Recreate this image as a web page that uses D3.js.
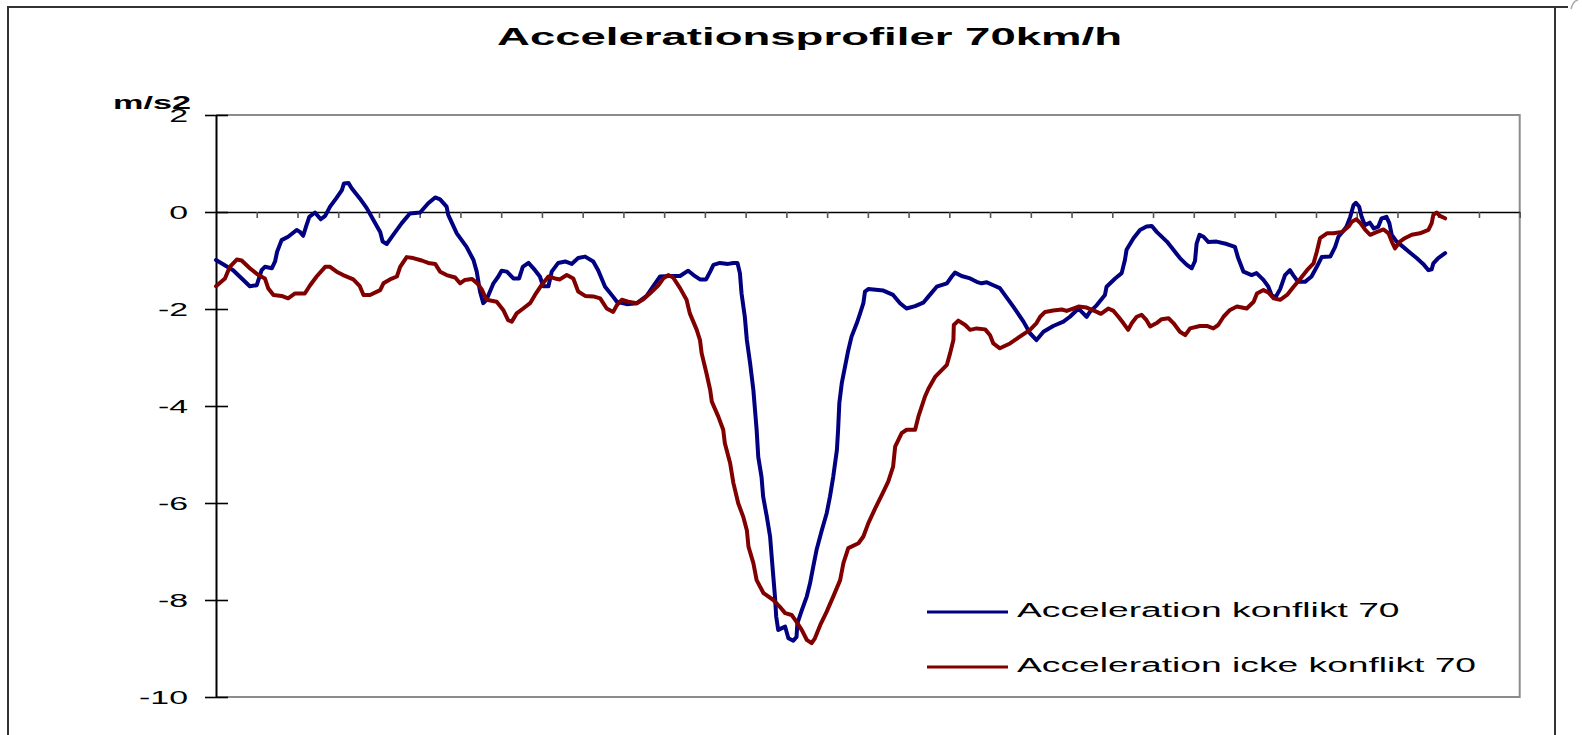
<!DOCTYPE html>
<meta charset="utf-8">
<style>
body { margin: 0; background: #fff; }
svg { display: block; font-family: "Liberation Sans", Arial, sans-serif; }
.series { fill: none; stroke-width: 4px; stroke-linejoin: round; stroke-linecap: round; }
</style>
<svg width="1582" height="735"></svg>
<script src="https://d3js.org/d3.v7.min.js"></script>
<script>

var title = "Accelerationsprofiler 70km/h";
var unitLabel = "m/s2";
var yTicks = [2, 0, -2, -4, -6, -8, -10];
var seriesNames = ["Acceleration konflikt 70", "Acceleration icke konflikt 70"];

// x in category-axis intervals (32 intervals on the axis), y in m/s2
var konfliktX = [0, 0.42, 0.83, 1.00, 1.12, 1.20, 1.37, 1.45, 1.50, 1.61, 1.77, 1.98, 2.06, 2.14, 2.21, 2.29, 2.43, 2.57, 2.68, 2.80,
    2.95, 3.09, 3.14, 3.25, 3.33, 3.53, 3.70, 3.86, 4.03, 4.09, 4.19, 4.35, 4.56, 4.76, 5.01, 5.21, 5.38, 5.50, 5.66, 5.70,
    5.91, 6.15, 6.32, 6.40, 6.48, 6.56, 6.64, 6.81, 6.93, 7.01, 7.14, 7.30, 7.44, 7.53, 7.67, 7.83, 7.95, 8.03, 8.16, 8.24,
    8.40, 8.57, 8.73, 8.89, 9.06, 9.26, 9.38, 9.55, 9.75, 9.84, 10.08, 10.33, 10.57, 10.78, 10.90, 11.14, 11.39, 11.59, 11.72, 11.88,
    12.03, 12.13, 12.21, 12.37, 12.57, 12.70, 12.80, 12.86, 12.90, 12.98, 13.03, 13.11, 13.19, 13.23, 13.27, 13.31, 13.39, 13.43, 13.52, 13.60,
    13.64, 13.68, 13.72, 13.75, 13.80, 13.89, 13.97, 14.05, 14.17, 14.25, 14.27, 14.38, 14.50, 14.58, 14.66, 14.74, 14.87, 14.99, 15.07, 15.15,
    15.24, 15.27, 15.30, 15.36, 15.44, 15.52, 15.60, 15.73, 15.81, 15.89, 15.93, 16.01, 16.38, 16.62, 16.79, 16.95, 17.16, 17.36, 17.48, 17.69,
    17.94, 18.06, 18.14, 18.30, 18.51, 18.67, 18.79, 18.92, 19.08, 19.24, 19.57, 19.82, 19.98, 20.14, 20.31, 20.55, 20.80, 20.96, 21.17, 21.25,
    21.37, 21.45, 21.62, 21.82, 21.86, 22.07, 22.23, 22.31, 22.35, 22.52, 22.68, 22.84, 22.97, 23.09, 23.34, 23.50, 23.66, 23.83, 23.95, 24.03,
    24.07, 24.14, 24.24, 24.36, 24.56, 24.81, 25.01, 25.09, 25.22, 25.42, 25.54, 25.71, 25.83, 25.91, 26.00, 26.12, 26.24, 26.36, 26.44, 26.56,
    26.73, 26.89, 27.02, 27.14, 27.35, 27.47, 27.55, 27.67, 27.75, 27.84, 27.92, 27.98, 28.06, 28.12, 28.20, 28.32, 28.42, 28.53, 28.61, 28.73,
    28.80, 28.86, 28.98, 29.14, 29.31, 29.47, 29.63, 29.76, 29.84, 29.88, 30.00, 30.17];
var konfliktY = [-0.99, -1.20, -1.53, -1.51, -1.20, -1.13, -1.16, -1.02, -0.82, -0.58, -0.51, -0.37, -0.41, -0.49, -0.30, -0.10, -0.01, -0.15, -0.08, 0.11,
    0.28, 0.45, 0.59, 0.60, 0.49, 0.28, 0.08, -0.16, -0.41, -0.61, -0.66, -0.47, -0.23, -0.03, -0.01, 0.18, 0.30, 0.26, 0.11, -0.06,
    -0.44, -0.72, -0.99, -1.23, -1.64, -1.88, -1.81, -1.47, -1.33, -1.21, -1.23, -1.37, -1.37, -1.13, -1.05, -1.20, -1.33, -1.53, -1.53, -1.23,
    -1.05, -1.02, -1.07, -0.95, -0.92, -1.02, -1.20, -1.54, -1.75, -1.85, -1.90, -1.88, -1.73, -1.47, -1.33, -1.32, -1.32, -1.21, -1.30, -1.39,
    -1.39, -1.23, -1.09, -1.05, -1.07, -1.05, -1.05, -1.26, -1.68, -2.16, -2.64, -3.12, -3.67, -4.08, -4.49, -5.05, -5.46, -5.87, -6.28, -6.69,
    -7.11, -7.52, -7.93, -8.34, -8.62, -8.58, -8.55, -8.79, -8.84, -8.76, -8.48, -8.21, -7.93, -7.66, -7.31, -6.97, -6.56, -6.21, -5.87, -5.46,
    -4.91, -4.49, -3.94, -3.53, -3.19, -2.85, -2.57, -2.29, -2.09, -1.88, -1.64, -1.59, -1.62, -1.71, -1.88, -1.99, -1.94, -1.87, -1.75, -1.54,
    -1.47, -1.33, -1.25, -1.32, -1.37, -1.44, -1.47, -1.45, -1.51, -1.57, -1.95, -2.26, -2.50, -2.64, -2.47, -2.35, -2.26, -2.16, -1.99, -2.06,
    -2.16, -2.06, -1.92, -1.71, -1.54, -1.37, -1.26, -0.99, -0.78, -0.54, -0.37, -0.30, -0.29, -0.41, -0.61, -0.78, -0.95, -1.09, -1.16, -1.01,
    -0.65, -0.47, -0.51, -0.62, -0.61, -0.66, -0.72, -0.95, -1.23, -1.30, -1.26, -1.40, -1.54, -1.71, -1.77, -1.59, -1.30, -1.20, -1.30, -1.44,
    -1.44, -1.33, -1.13, -0.93, -0.92, -0.72, -0.51, -0.39, -0.30, -0.10, 0.14, 0.19, 0.11, -0.10, -0.27, -0.22, -0.34, -0.30, -0.13, -0.10,
    -0.23, -0.47, -0.61, -0.72, -0.84, -0.95, -1.07, -1.20, -1.18, -1.06, -0.95, -0.85];

var ickeX = [0, 0.22, 0.34, 0.51, 0.63, 0.83, 1.04, 1.20, 1.28, 1.41, 1.61, 1.77, 1.94, 2.18, 2.31, 2.47, 2.68, 2.80, 2.96, 3.12,
    3.37, 3.53, 3.62, 3.78, 4.03, 4.11, 4.27, 4.44, 4.52, 4.68, 4.84, 5.05, 5.21, 5.38, 5.50, 5.66, 5.87, 5.99, 6.11, 6.28,
    6.40, 6.52, 6.64, 6.89, 7.05, 7.17, 7.26, 7.38, 7.54, 7.71, 7.83, 7.99, 8.16, 8.32, 8.44, 8.61, 8.77, 8.89, 9.06, 9.26,
    9.43, 9.59, 9.75, 9.84, 9.96, 10.12, 10.33, 10.49, 10.65, 10.86, 10.98, 11.10, 11.22, 11.39, 11.55, 11.63, 11.80, 11.88, 11.92, 12.04,
    12.13, 12.17, 12.33, 12.45, 12.49, 12.62, 12.70, 12.82, 12.94, 13.03, 13.07, 13.19, 13.27, 13.44, 13.68, 13.84, 13.97, 14.13, 14.25, 14.38,
    14.50, 14.62, 14.70, 14.83, 14.99, 15.15, 15.32, 15.40, 15.52, 15.77, 15.89, 16.01, 16.18, 16.38, 16.50, 16.62, 16.67, 16.83, 16.95, 17.16,
    17.24, 17.40, 17.49, 17.65, 17.94, 18.02, 18.10, 18.11, 18.22, 18.39, 18.51, 18.67, 18.88, 19.00, 19.08, 19.24, 19.49, 19.73, 19.98, 20.14,
    20.23, 20.35, 20.55, 20.76, 20.88, 21.04, 21.17, 21.37, 21.62, 21.72, 21.90, 22.03, 22.15, 22.27, 22.39, 22.48, 22.60, 22.72, 22.84, 22.93,
    23.09, 23.21, 23.38, 23.50, 23.66, 23.79, 23.91, 24.15, 24.32, 24.48, 24.60, 24.73, 24.89, 25.06, 25.30, 25.47, 25.55, 25.71, 25.83, 25.96,
    26.12, 26.29, 26.45, 26.62, 26.78, 26.94, 27.02, 27.10, 27.27, 27.43, 27.64, 27.80, 27.88, 27.99, 28.09, 28.21, 28.33, 28.50, 28.66, 28.78,
    28.86, 28.94, 29.06, 29.18, 29.35, 29.55, 29.76, 29.84, 29.88, 29.96, 30.04, 30.17];
var ickeY = [-1.53, -1.37, -1.13, -0.98, -1.00, -1.16, -1.30, -1.37, -1.57, -1.71, -1.73, -1.78, -1.68, -1.68, -1.51, -1.33, -1.13, -1.13, -1.23, -1.30,
    -1.39, -1.53, -1.71, -1.71, -1.61, -1.47, -1.39, -1.33, -1.13, -0.93, -0.95, -1.00, -1.05, -1.07, -1.23, -1.30, -1.35, -1.47, -1.40, -1.38,
    -1.46, -1.59, -1.81, -1.85, -2.02, -2.23, -2.26, -2.09, -1.99, -1.88, -1.71, -1.51, -1.33, -1.37, -1.39, -1.30, -1.37, -1.64, -1.73, -1.74,
    -1.78, -1.99, -2.06, -1.92, -1.81, -1.85, -1.88, -1.80, -1.68, -1.51, -1.37, -1.30, -1.35, -1.57, -1.81, -2.09, -2.43, -2.64, -2.91, -3.33,
    -3.67, -3.91, -4.22, -4.49, -4.77, -5.18, -5.59, -6.01, -6.28, -6.56, -6.90, -7.24, -7.59, -7.86, -8.00, -8.14, -8.27, -8.31, -8.45, -8.62,
    -8.82, -8.89, -8.79, -8.52, -8.24, -7.93, -7.59, -7.24, -6.93, -6.83, -6.69, -6.42, -6.11, -5.77, -5.56, -5.25, -4.84, -4.56, -4.49, -4.49,
    -4.22, -3.81, -3.64, -3.40, -3.15, -2.91, -2.64, -2.33, -2.24, -2.33, -2.43, -2.40, -2.42, -2.54, -2.71, -2.81, -2.71, -2.57, -2.43, -2.29,
    -2.16, -2.06, -2.03, -2.01, -2.04, -1.99, -1.95, -1.97, -2.06, -2.10, -1.99, -2.04, -2.16, -2.29, -2.43, -2.29, -2.16, -2.12, -2.23, -2.36,
    -2.29, -2.21, -2.19, -2.29, -2.47, -2.54, -2.40, -2.35, -2.35, -2.40, -2.33, -2.16, -2.02, -1.95, -1.99, -1.85, -1.68, -1.61, -1.66, -1.78,
    -1.81, -1.71, -1.54, -1.37, -1.20, -1.06, -0.82, -0.54, -0.44, -0.44, -0.41, -0.30, -0.20, -0.15, -0.23, -0.37, -0.47, -0.41, -0.36, -0.44,
    -0.61, -0.75, -0.61, -0.54, -0.47, -0.44, -0.37, -0.23, -0.06, -0.01, -0.08, -0.13];

var colors = ["#000080", "#800000"];

var svg = d3.select("svg");

var plotLeft = 216, plotRight = 1519.7, plotTop = 115, plotBottom = 697;

var x = d3.scaleLinear().domain([0, 32]).range([plotLeft, plotRight]);
var y = d3.scaleLinear().domain([-10, 2]).range([plotBottom, plotTop]);

// stretch text horizontally like the original picture
function stretch(sel, k) {
    sel.each(function () {
        var w = this.getComputedTextLength();
        d3.select(this).attr("textLength", w * k).attr("lengthAdjust", "spacingAndGlyphs");
    });
}

// outer chart border
svg.append("path")
    .attr("d", "M8,745 L8,7 L1568,7 M1555,7 L1555,745")
    .attr("fill", "none")
    .attr("stroke", "#333")
    .attr("stroke-width", 2);
svg.append("path")
    .attr("d", "M1571,9 Q1573,1 1578,0")
    .attr("fill", "none")
    .attr("stroke", "#aaa")
    .attr("stroke-width", 1.5);

// plot area frame (top, right, bottom in grey)
svg.append("path")
    .attr("d", "M" + plotLeft + "," + plotTop + " L" + plotRight + "," + plotTop +
        " L" + plotRight + "," + plotBottom + " L" + plotLeft + "," + plotBottom)
    .attr("fill", "none")
    .attr("stroke", "#8c8c8c")
    .attr("stroke-width", 2);

// x axis at zero
var xAxis = svg.append("g")
    .attr("transform", "translate(0," + y(0) + ")")
    .call(d3.axisBottom(x).tickValues(d3.range(1, 33)).tickSize(6).tickSizeOuter(0).tickFormat(""));
xAxis.select(".domain").attr("stroke", "#000").attr("stroke-width", 1.6);
xAxis.selectAll(".tick line").attr("stroke", "#555").attr("stroke-width", 1.6);

// y axis
var yAxis = svg.append("g")
    .attr("transform", "translate(" + plotLeft + ",0)")
    .call(d3.axisLeft(y).tickValues(yTicks).tickSize(11).tickSizeOuter(0).tickPadding(17)
        .tickFormat(function (d) { return String(d); }));
yAxis.select(".domain").attr("stroke", "#000").attr("stroke-width", 2);
yAxis.selectAll(".tick line").attr("x2", -11).attr("x1", 12).attr("stroke", "#000").attr("stroke-width", 1.6);
yAxis.selectAll(".tick text")
    .attr("font-family", "Liberation Sans, Arial, sans-serif")
    .attr("font-size", 18)
    .attr("fill", "#000")
    .attr("dy", "0.36em")
    .call(stretch, 1.88);

// lines
var line = d3.line()
    .x(function (d) { return x(d[0]); })
    .y(function (d) { return y(d[1]); });

var series = [
    d3.zip(konfliktX, konfliktY),
    d3.zip(ickeX, ickeY)
];

svg.append("g").selectAll("path")
    .data(series)
    .enter().append("path")
    .attr("class", "series")
    .attr("stroke", function (d, i) { return colors[i]; })
    .attr("d", line);

// title
svg.append("text")
    .attr("x", 497)
    .attr("y", 45)
    .attr("font-size", 24)
    .attr("font-weight", "bold")
    .attr("textLength", 625)
    .attr("lengthAdjust", "spacingAndGlyphs")
    .text(title);

// unit label
svg.append("text")
    .attr("x", 191)
    .attr("y", 109)
    .attr("text-anchor", "end")
    .attr("font-size", 18)
    .attr("font-weight", "bold")
    .text(unitLabel)
    .call(stretch, 1.9);

// legend
var legend = svg.append("g").selectAll("g")
    .data(seriesNames)
    .enter().append("g")
    .attr("transform", function (d, i) { return "translate(927," + (612 + i * 55) + ")"; });

legend.append("line")
    .attr("x1", 0).attr("x2", 81)
    .attr("stroke", function (d, i) { return colors[i]; })
    .attr("stroke-width", 3);

legend.append("text")
    .attr("x", 90)
    .attr("y", 4.5)
    .attr("font-size", 20)
    .text(function (d) { return d; })
    .call(stretch, 1.86);

</script>
